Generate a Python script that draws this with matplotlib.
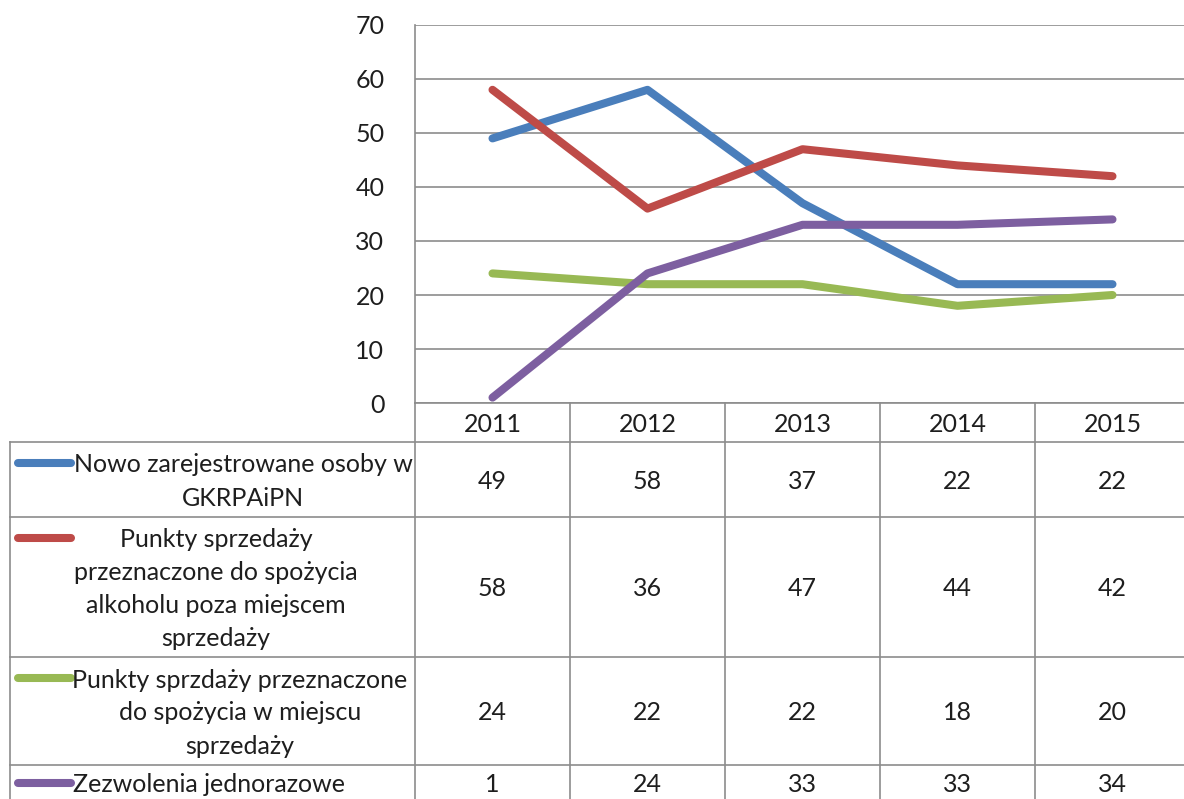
import matplotlib
matplotlib.use("Agg")
import matplotlib.pyplot as plt
import matplotlib.transforms as mtransforms
from matplotlib.lines import Line2D

# data
years = ['2011', '2012', '2013', '2014', '2015']
nowo_osoby = [49, 58, 37, 22, 22]
punkty_poza = [58, 36, 47, 44, 42]
punkty_w_miejscu = [24, 22, 22, 18, 20]
zezwolenia = [1, 24, 33, 33, 34]

series = [nowo_osoby, punkty_poza, punkty_w_miejscu, zezwolenia]
series_labels = [
    ["Nowo zarejestrowane osoby w", "GKRPAiPN"],
    ["Punkty sprzedaży", "przeznaczone do spożycia", "alkoholu poza miejscem", "sprzedaży"],
    ["Punkty sprzdaży przeznaczone", "do spożycia w miejscu", "sprzedaży"],
    ["Zezwolenia jednorazowe"],
]
colors = ['#4a7ebb', '#be4b48', '#98b954', '#7d5fa0']

W, H = 1184, 799
GRID = '#8c8c8c'
TXT = '#1e1e1e'
FS = 18
DY = 2  # small downward nudge so text centres sit like the reference

plt.rcParams['font.family'] = ['Lato', 'DejaVu Sans']

fig = plt.figure(figsize=(W / 100, H / 100), dpi=100)


def fy(py):
    return 1 - py / H


def fx(px):
    return px / W


# plot area: x 415..1190 px, y 25..403 px
ax = fig.add_axes([fx(415), fy(403), fx(1190) - fx(415), fy(25) - fy(403)])
x = list(range(len(years)))
for vals, c in zip(series, colors):
    ax.plot(x, vals, color=c, lw=5.8, solid_capstyle='round', solid_joinstyle='round', zorder=3)

ax.set_xlim(-0.5, len(years) - 0.5)
ax.set_ylim(0, 70)
ax.set_yticks(range(0, 71, 10))
ax.set_xticks([])
ax.tick_params(axis='y', length=0, pad=22, labelsize=FS, labelcolor=TXT)
ax.grid(axis='y', color=GRID, lw=1.2, zorder=0)
for s in ['top', 'right']:
    ax.spines[s].set_visible(False)
for s in ['left', 'bottom']:
    ax.spines[s].set_color(GRID)
    ax.spines[s].set_linewidth(1.2)

# data table below the plot
blend = mtransforms.blended_transform_factory(ax.transData, fig.transFigure)
row_edges = [403, 442, 517, 657, 765, 801]
label_cx = [243, 216, 240, 209]
line_gap = 33

for i in range(len(years) + 1):
    ax.add_line(Line2D([i - 0.5, i - 0.5], [fy(403), fy(810)], transform=blend,
                       color=GRID, lw=1.2, clip_on=False))
for py in row_edges[1:-1]:
    fig.add_artist(Line2D([fx(10), fx(1200)], [fy(py), fy(py)], color=GRID, lw=1.2))
fig.add_artist(Line2D([fx(10), fx(10)], [fy(442), fy(810)], color=GRID, lw=1.2))

hy = (row_edges[0] + row_edges[1]) / 2
for i, yr in enumerate(years):
    ax.text(i, fy(hy + DY), yr, transform=blend, ha='center', va='center',
            fontsize=FS, color=TXT, clip_on=False)

for r, (vals, c, lab) in enumerate(zip(series, colors, series_labels)):
    top, bot = row_edges[r + 1], row_edges[r + 2]
    cy = (top + bot) / 2 if r < len(series) - 1 else 783
    for i, v in enumerate(vals):
        ax.text(i, fy(cy + DY), str(v), transform=blend, ha='center', va='center',
                fontsize=FS, color=TXT, clip_on=False)
    first = cy - (len(lab) - 1) / 2 * line_gap
    for k, line in enumerate(lab):
        fig.text(fx(label_cx[r]), fy(first + k * line_gap + DY), line, ha='center', va='center',
                 fontsize=FS, color=TXT)
    fig.add_artist(Line2D([fx(18), fx(71)], [fy(first), fy(first)], color=c, lw=5.8,
                          solid_capstyle='round'))

fig.savefig('out.png', dpi=100)
